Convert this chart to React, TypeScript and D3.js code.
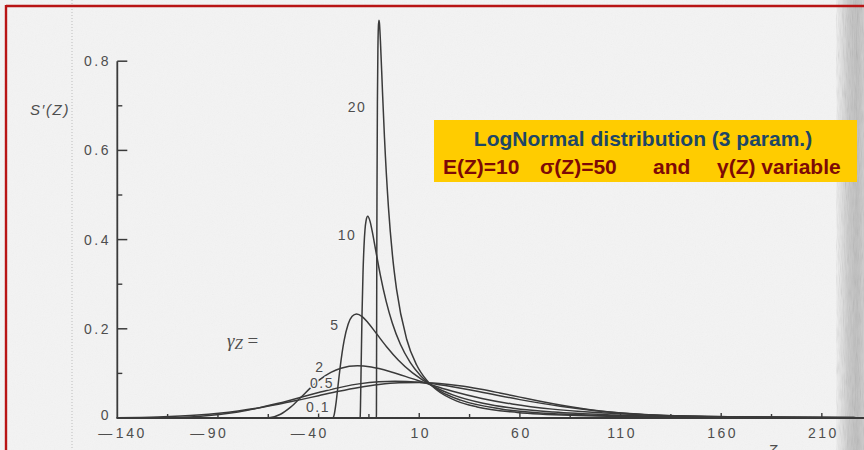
import React from "react";
import * as d3 from "d3";

type Pt = [number, number];

// Axis ticks
const xMajorTicks = [-140, -90, -40, 10, 60, 110, 160, 210];
const xMinorTicks = [-115, -65, -15, 35, 85, 135, 185];
const yMajorTicks = [0, 0.2, 0.4, 0.6, 0.8];
const yMinorTicks = [0.1, 0.3, 0.5, 0.7];
const yTickLabels = ["0", "0.2", "0.4", "0.6", "0.8"];

// S'(Z) against Z for each skewness γ(Z), with E(Z)=10 and σ(Z)=50
const densityG01: Pt[] = [
  [-140, 0.0006], [-120, 0.0023], [-100, 0.0066], [-80, 0.0157], [-70, 0.0224],
  [-60, 0.0307], [-50, 0.0401], [-40, 0.05], [-30, 0.0598], [-20, 0.0684],
  [-10, 0.0751], [0, 0.079], [10, 0.0798], [20, 0.0774], [30, 0.0723],
  [40, 0.0649], [50, 0.0561], [60, 0.0468], [70, 0.0376], [80, 0.0292],
  [90, 0.0219], [100, 0.0159], [120, 0.0076], [140, 0.0032], [170, 0.0007],
  [210, 0.0001], [230, 0],
];

const densityG05: Pt[] = [
  [-140, 0], [-120, 0.0005], [-100, 0.0036], [-80, 0.0135], [-60, 0.0329],
  [-40, 0.0573], [-20, 0.0765], [-10, 0.0813], [-2, 0.0825], [10, 0.08],
  [20, 0.0748], [40, 0.0589], [60, 0.0412], [80, 0.0263], [100, 0.0154],
  [120, 0.0085], [140, 0.0044], [170, 0.0015], [210, 0.0003], [230, 0.0001],
];

const densityG2: Pt[] = [
  [-140, 0], [-73.9, 0], [-68.9, 0], [-63.9, 0.0012], [-58.9, 0.0084],
  [-53.9, 0.0243], [-48.9, 0.0458], [-43.9, 0.0682], [-38.9, 0.0877],
  [-33.9, 0.1023], [-28.9, 0.1117], [-20.7, 0.1169], [-13.9, 0.1141],
  [-3.9, 0.1032], [6.1, 0.0888], [16.1, 0.0741], [26.1, 0.0606], [41.1, 0.0439],
  [56.1, 0.0314], [76.1, 0.0199], [96.1, 0.0127], [126.1, 0.0065],
  [166.1, 0.0028], [226.1, 0.0009],
];

const densityG5: Pt[] = [
  [-140, 0], [-33.33, 0], [-32.83, 0.0006], [-32.33, 0.0058], [-31.33, 0.034],
  [-30.33, 0.0733], [-29.33, 0.1123], [-28.33, 0.1462], [-27.33, 0.1736],
  [-25.33, 0.2103], [-23.33, 0.2281], [-21.16, 0.2333], [-18.33, 0.2274],
  [-15.33, 0.2131], [-11.33, 0.1897], [-6.33, 0.1604], [-0.33, 0.1296],
  [6.67, 0.1011], [16.67, 0.0718], [26.67, 0.0519], [41.67, 0.0331],
  [56.67, 0.0219], [76.67, 0.0133], [106.67, 0.0069], [146.67, 0.0032],
  [226.67, 0.0009],
];

const densityG10: Pt[] = [
  [-140, 0], [-19.43, 0], [-19.33, 0.0034], [-19.23, 0.0181], [-18.93, 0.0978],
  [-18.43, 0.2321], [-17.93, 0.3266], [-17.43, 0.3865], [-16.43, 0.4422],
  [-15.59, 0.4522], [-14.43, 0.4408], [-13.43, 0.4203], [-11.43, 0.3709],
  [-9.43, 0.3228], [-6.43, 0.2615], [-3.43, 0.2136], [0.57, 0.1659],
  [5.57, 0.1242], [10.57, 0.0954], [20.57, 0.0598], [30.57, 0.04],
  [50.57, 0.0203], [80.57, 0.009], [130.57, 0.0032], [220.57, 0.0008],
];

const densityG20: Pt[] = [
  [-140, 0], [-11.29, 0], [-11.27, 0.0088], [-11.24, 0.0539], [-11.19, 0.1575],
  [-11.09, 0.3557], [-10.99, 0.5086], [-10.79, 0.7046], [-10.54, 0.8264],
  [-10.29, 0.8775], [-10.01, 0.892], [-9.79, 0.8859], [-9.29, 0.8457],
  [-8.29, 0.7349], [-7.29, 0.6308], [-5.29, 0.4718], [-3.29, 0.3641],
  [-1.29, 0.2889], [3.71, 0.1772], [8.71, 0.1188], [13.71, 0.0845],
  [18.71, 0.0627], [28.71, 0.0378], [38.71, 0.0248], [58.71, 0.0125],
  [88.71, 0.0056], [138.71, 0.0021], [218.71, 0.0007],
];

const gammaValues = ["0.1", "0.5", "2", "5", "10", "20"];
const densities = [densityG01, densityG05, densityG2, densityG5, densityG10, densityG20];

const W = 864;
const H = 450;
const INK = "#3a3a3a";
const TEXT = "#4e4e4e";
const SANS = "'Liberation Sans', Arial, Helvetica, sans-serif";
const SERIF = "'Liberation Serif', 'DejaVu Serif', serif";

export default function App() {
  const x = d3.scaleLinear().domain([-140, 230]).range([117.3, 862.1]);
  const y = d3.scaleLinear().domain([0, 0.8]).range([418, 61.2]);
  const line = d3
    .line<Pt>()
    .x((d) => x(d[0]))
    .y((d) => y(d[1]))
    .curve(d3.curveMonotoneX);

  const x0 = x(-140);
  const yBase = y(0);

  // curve captions placed in data space next to each density
  const captionAt: Record<string, Pt> = {
    "20": [-20.9, 0.697],
    "10": [-25.9, 0.41],
    "5": [-31.9, 0.2085],
    "2": [-39.3, 0.114],
    "0.5": [-38.3, 0.0785],
    "0.1": [-40.3, 0.0247],
  };

  const digitW = 14 * 0.556 + 2.5;

  return (
    <svg
      width={W}
      height={H}
      viewBox={`0 0 ${W} ${H}`}
      style={{ position: "absolute", left: 0, top: 0, display: "block" }}
    >
      <defs>
        <linearGradient id="edge" x1="0" x2="1" y1="0" y2="0">
          <stop offset="0" stopColor="#f3f3f3" />
          <stop offset="0.45" stopColor="#c9c9c9" />
          <stop offset="0.75" stopColor="#bdbdbd" />
          <stop offset="1" stopColor="#cdcdcd" />
        </linearGradient>
        <filter id="grain" x="0" y="0" width={W} height={H} filterUnits="userSpaceOnUse">
          <feTurbulence type="fractalNoise" baseFrequency="0.9" numOctaves="2" seed="7" />
          <feColorMatrix type="saturate" values="0" />
        </filter>
        <filter id="streaks" x="836" y="0" width="28" height={H} filterUnits="userSpaceOnUse">
          <feTurbulence type="fractalNoise" baseFrequency="0.9 0.08" numOctaves="2" seed="3" />
          <feColorMatrix type="saturate" values="0" />
        </filter>
      </defs>

      {/* paper */}
      <rect x={0} y={0} width={W} height={H} fill="#f3f3f3" />
      <rect x={0} y={0} width={W} height={H} fill="#fff" filter="url(#grain)" opacity={0.05} />
      <rect x={836} y={0} width={28} height={H} fill="url(#edge)" />
      <rect x={836} y={0} width={28} height={H} fill="#fff" filter="url(#streaks)" opacity={0.3} />

      {/* fold line */}
      <line x1={72} x2={72} y1={0} y2={H} stroke="#bdbdbd" strokeWidth={1} strokeDasharray="1 2" />

      {/* axes */}
      <g stroke={INK} strokeWidth={1.8} fill="none">
        <line x1={x0} x2={x0} y1={y(0.8)} y2={yBase} />
        <line x1={x0 - 0.9} x2={W} y1={yBase} y2={yBase} />
        {yMajorTicks.filter((v) => v > 0).map((v) => (
          <line key={`ym${v}`} x1={x0} x2={x0 + 10} y1={y(v)} y2={y(v)} strokeWidth={1.5} />
        ))}
        {yMinorTicks.map((v) => (
          <line key={`yn${v}`} x1={x0} x2={x0 + 5} y1={y(v)} y2={y(v)} strokeWidth={1.4} />
        ))}
        {xMajorTicks.filter((v) => v > -140).map((v) => (
          <line key={`xm${v}`} x1={x(v)} x2={x(v)} y1={yBase} y2={yBase - 5} strokeWidth={1.4} />
        ))}
        {xMinorTicks.map((v) => (
          <line key={`xn${v}`} x1={x(v)} x2={x(v)} y1={yBase} y2={yBase - 4} strokeWidth={1.4} />
        ))}
      </g>

      {/* tick labels */}
      <g fill={TEXT} fontFamily={SANS} fontSize={14} letterSpacing={2.5}>
        {yMajorTicks.map((v, i) => (
          <text
            key={`yl${v}`}
            x={111}
            y={v === 0 ? y(v) - 3 : y(v)}
            textAnchor="end"
            dominantBaseline="central"
          >
            {yTickLabels[i]}
          </text>
        ))}
        {xMajorTicks.map((v, i) => {
          const digits = String(Math.abs(v));
          const half = (digits.length * digitW) / 2;
          const shift = i === 0 ? 14 : 0;
          return v < 0 ? (
            <text key={`xl${v}`} x={x(v) + half + shift} y={438} textAnchor="end">
              <tspan>{"\u2014"}</tspan>
              <tspan dx={1}>{digits}</tspan>
            </text>
          ) : (
            <text key={`xl${v}`} x={x(v) + 1.5} y={438} textAnchor="middle">
              {digits}
            </text>
          );
        })}
      </g>

      {/* axis titles */}
      <text x={30} y={115} fill={TEXT} fontFamily={SANS} fontSize={15} fontStyle="italic" letterSpacing={1.6}>
        S′(Z)
      </text>
      <text x={768} y={455} fill={TEXT} fontFamily={SANS} fontSize={15} fontStyle="italic">
        Z
      </text>

      {/* densities */}
      <g fill="none" stroke={INK} strokeWidth={1.5} strokeLinejoin="round">
        {densities.map((d, i) => (
          <path key={gammaValues[i]} d={line(d) ?? ""} />
        ))}
      </g>

      {/* captions */}
      <g
        fill={TEXT}
        fontFamily={SANS}
        fontSize={14}
        letterSpacing={1.5}
        stroke="#f3f3f3"
        strokeWidth={3}
        paintOrder="stroke"
      >
        {gammaValues.map((g) => (
          <text
            key={`c${g}`}
            x={x(captionAt[g][0])}
            y={y(captionAt[g][1])}
            textAnchor="middle"
            dominantBaseline="central"
          >
            {g}
          </text>
        ))}
      </g>
      <text x={227} y={347} fill={TEXT} fontFamily={SERIF} fontSize={19} fontStyle="italic">
        <tspan>γ</tspan>
        <tspan dy={2} fontSize={15}>Z</tspan>
        <tspan dy={-2} fontStyle="normal"> =</tspan>
      </text>

      {/* heading box */}
      <rect x={434} y={120} width={423} height={62} fill="#FFCC00" />
      <text
        x={643}
        y={146}
        textAnchor="middle"
        fill="#1d4666"
        fontFamily={SANS}
        fontWeight="bold"
        fontSize={21}
      >
        LogNormal distribution (3 param.)
      </text>
      <text y={174} fill="#7d0a06" fontFamily={SANS} fontWeight="bold" fontSize={21}>
        <tspan x={443}>E(Z)=10</tspan>
        <tspan x={540}>σ(Z)=50</tspan>
        <tspan x={653}>and</tspan>
        <tspan x={717}>γ(Z) variable</tspan>
      </text>

      {/* frame */}
      <line x1={6} x2={W} y1={6} y2={6} stroke="#b81414" strokeWidth={2.4} />
      <line x1={6} x2={6} y1={5} y2={H} stroke="#b81414" strokeWidth={2.4} />
    </svg>
  );
}
